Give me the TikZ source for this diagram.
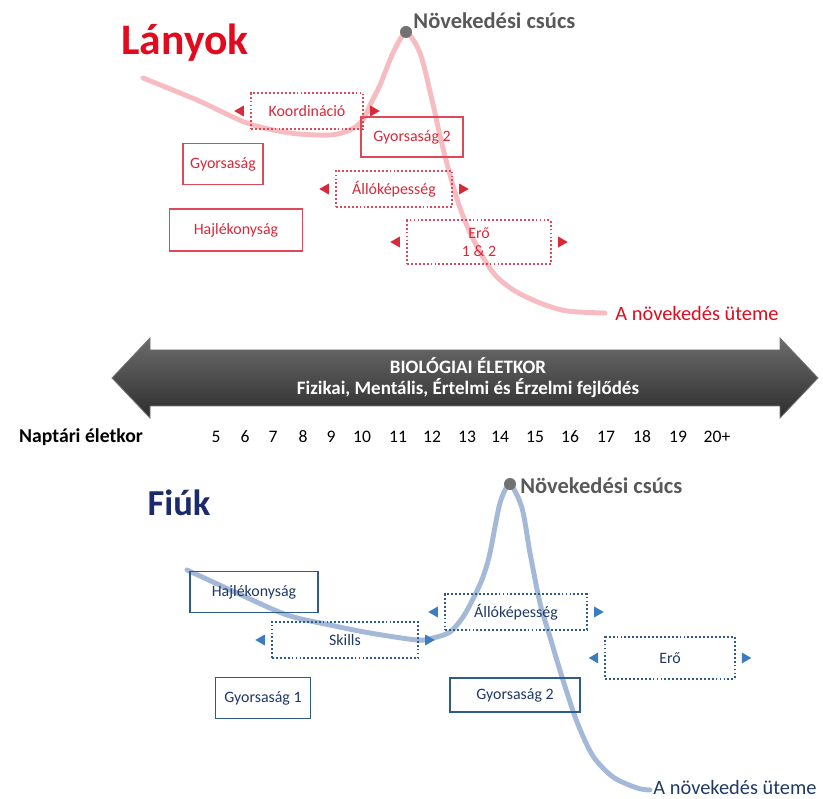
\documentclass[tikz,border=0pt]{standalone}
\usepackage{fontspec}
\setmainfont{Carlito}
\usepackage{tikz}
\usetikzlibrary{positioning}
\usetikzlibrary{shapes.geometric}
\definecolor{lanyred}{HTML}{E30A1E}
\definecolor{boxred}{HTML}{D8283A}
\definecolor{curvered}{HTML}{F4ABB2}
\definecolor{fiunavy}{HTML}{1B2A6B}
\definecolor{boxblue}{HTML}{2E5C8A}
\definecolor{textblue}{HTML}{1F3864}
\definecolor{triblue}{HTML}{3C7CC0}
\definecolor{curveblue}{HTML}{8DA6CE}
\definecolor{peakgray}{HTML}{595959}
\tikzstyle{title}=[font=\fontsize{31}{33}\selectfont\bfseries]
\tikzstyle{rbox}=[draw=boxred!85,line width=0.8pt,text=boxred,font=\fontsize{11.3}{12.5}\selectfont,inner sep=1pt,align=center]
\tikzstyle{rdots}=[rbox,line width=1.3pt,dash pattern=on 1.3pt off 1.5pt]
\tikzstyle{bbox}=[draw=boxblue,line width=0.8pt,text=textblue,font=\fontsize{11.3}{12.5}\selectfont,inner sep=1pt,align=center]
\tikzstyle{bdots}=[bbox,line width=1.3pt,dash pattern=on 1.3pt off 1.5pt]
\tikzstyle{tri}=[regular polygon,regular polygon sides=3,inner sep=0pt,minimum size=9pt]
\tikzstyle{trileft}=[tri,shape border rotate=90]
\tikzstyle{triright}=[tri,shape border rotate=-90]
\tikzstyle{peak}=[circle,fill=peakgray!85,inner sep=0pt,minimum size=0.3cm]
\tikzstyle{peaklabel}=[text=peakgray,font=\fontsize{16}{18}\selectfont\bfseries,anchor=west,inner sep=0pt]
\tikzstyle{rate}=[font=\fontsize{14.5}{16}\selectfont,inner sep=0pt]
\tikzstyle{num}=[font=\fontsize{12.5}{14}\selectfont,inner sep=0pt]
\begin{document}
\begin{tikzpicture}[x=0.025cm,y=-0.025cm]
\useasboundingbox (0,0) rectangle (823,799);
\node [title,text=lanyred] (lany) at (185,43) {Lányok};
\draw [curvered,opacity=0.8,line width=3.5pt,line cap=round] plot[smooth] coordinates {(143,78) (197,100) (247,123) (290,133) (330,135) (350,130) (363,120) (371,103) (380,85) (393,53) (406,33) (420,53) (432,100) (441,140) (450,175) (459,205) (468,228) (481,254) (496,276) (515,291) (540,303) (567,311) (605,313)};
\node [peak] (pr) at (406,32) {};
\node at (pr) [peaklabel,xshift=0.18cm,yshift=0.28cm] {Növekedési csúcs};
\node [rdots,minimum width=2.8cm,minimum height=0.9cm] (k) at (307,111) {Koordináció};
\node [trileft,fill=boxred,left=1.5mm of k] (kl) {};
\node [triright,fill=boxred,right=1.5mm of k] (kr) {};
\node [rbox,minimum width=2.55cm,minimum height=1cm] (g2) at (412,137) {Gyorsaság 2};
\node [rbox,minimum width=2cm,minimum height=1.02cm] (g) at (223,164) {Gyorsaság};
\node [rdots,minimum width=2.9cm,minimum height=0.9cm] (al) at (394,189) {Állóképesség};
\node [trileft,fill=boxred,left=1.5mm of al] (all) {};
\node [triright,fill=boxred,right=1.5mm of al] (alr) {};
\node [rbox,minimum width=3.33cm,minimum height=1.05cm] (h) at (236,230) {Hajlékonyság};
\node [rdots,minimum width=3.6cm,minimum height=1.08cm] (e) at (479,242) {Erő\\1 \& 2};
\node [trileft,fill=boxred,left=1.5mm of e] (el) {};
\node [triright,fill=boxred,right=1.5mm of e] (er) {};
\node [rate,text=lanyred] (ur) at (697,313) {A növekedés üteme};
\draw [top color=black!58,bottom color=black!82,draw=black!55,line width=0.6pt] (112,378) -- (150,338) -- (150,350) -- (780,350) -- (780,338) -- (818,378) -- (780,418) -- (780,406) -- (150,406) -- (150,418) -- cycle;
\node [text=white,font=\fontsize{13.5}{15}\selectfont\bfseries,align=center] (bio) at (468,378) {BIOLÓGIAI ÉLETKOR\\Fizikai, Mentális, Értelmi és Érzelmi fejlődés};
\node [num,font=\fontsize{14}{15}\selectfont\bfseries] (nap) at (81,437) {Naptári életkor};
\foreach \n/\x in {5/216,6/245,7/273,8/303,9/331,10/362,11/398,12/432,13/467,14/500,15/535,16/570,17/606,18/642,19/678}
  \node [num] (n\n) at (\x,437) {\n};
\node [num] (n20) at (717,437) {20+};
\node [title,font=\fontsize{26}{28}\selectfont\bfseries,text=fiunavy] (fiu) at (179,503) {Fiúk};
\draw [curveblue,opacity=0.8,line width=3.5pt,line cap=round] plot[smooth] coordinates {(187,570) (237,593) (287,615) (330,625) (370,633) (417,640) (433,638) (450,632) (463,617) (474,597) (483,577) (490,553) (500,503) (510,485) (522,508) (530,553) (540,603) (550,637) (562,677) (577,722) (593,756) (613,777) (637,788) (650,790)};
\node [peak] (pb) at (510,484) {};
\node at (pb) [peaklabel,xshift=0.25cm,yshift=-0.05cm] {Növekedési csúcs};
\node [bbox,minimum width=3.2cm,minimum height=1.02cm] (hb) at (254,592) {Hajlékonyság};
\node [bdots,minimum width=3.65cm,minimum height=0.9cm] (s) at (345,640) {Skills};
\node [trileft,fill=triblue,left=1.5mm of s] (sl) {};
\node [triright,fill=triblue,right=1.5mm of s] (sr) {};
\node [bdots,minimum width=3.55cm,minimum height=0.88cm] (ab) at (516,612) {Állóképesség};
\node [trileft,fill=triblue,left=1.5mm of ab] (abl) {};
\node [triright,fill=triblue,right=1.5mm of ab] (abr) {};
\node [bdots,minimum width=3.23cm,minimum height=1.05cm] (eb) at (670,658) {Erő};
\node [trileft,fill=triblue,left=1.5mm of eb] (ebl) {};
\node [triright,fill=triblue,right=1.5mm of eb] (ebr) {};
\node [bbox,minimum width=2.38cm,minimum height=1.02cm] (g1) at (263,698) {Gyorsaság 1};
\node [bbox,minimum width=3.25cm,minimum height=0.85cm] (g2b) at (515,695) {Gyorsaság 2};
\node [rate,text=textblue] (ub) at (735,787) {A növekedés üteme};
\end{tikzpicture}
\end{document}
